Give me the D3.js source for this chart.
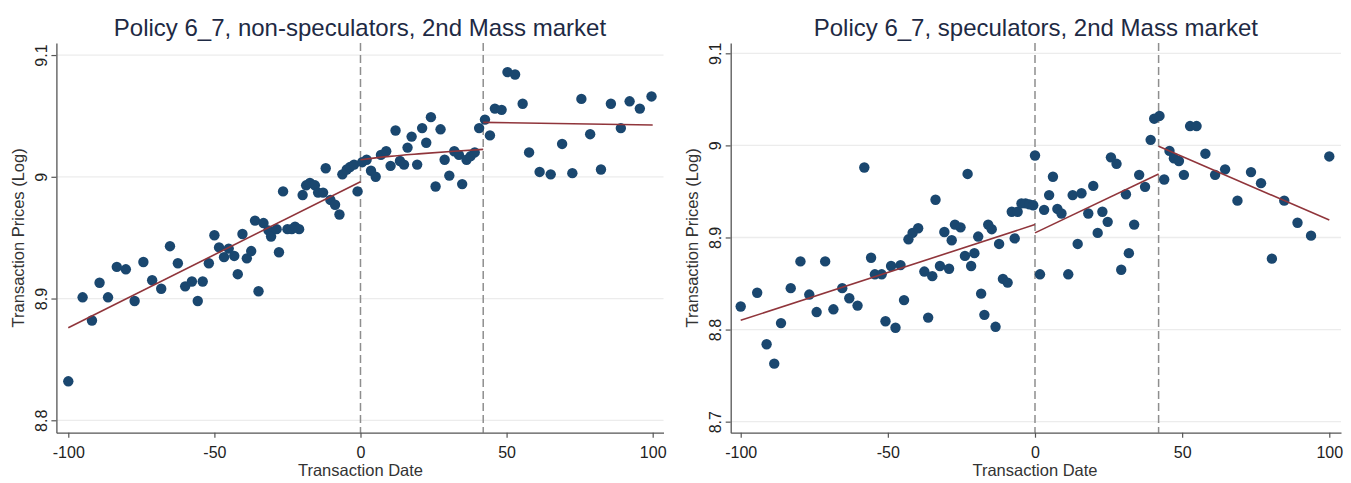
<!DOCTYPE html>
<html>
<head>
<meta charset="utf-8">
<script src="https://cdn.jsdelivr.net/npm/d3@7/dist/d3.min.js"></script>
<style>
  html, body { margin: 0; padding: 0; background: #ffffff; }
  svg { display: block; }
  text { font-family: "Liberation Sans", Arial, "Helvetica", sans-serif; }
</style>
</head>
<body>
<svg id="chart" width="1351" height="483"></svg>
<script>
// Binned transaction dates (days relative to the policy) and mean log prices
const nonSpecDates = [-100, -95.1, -91.9, -89.3, -86.4, -83.4, -80.3, -77.3, -74.3, -71.3,
  -68.2, -65.2, -62.5, -60.0, -57.7, -55.7, -54.0, -51.9, -50.0, -48.4,
  -46.7, -45.1, -43.2, -42.0, -40.4, -38.9, -37.4, -36.1, -34.9, -33.2,
  -31.5, -30.6, -28.7, -27.9, -26.5, -25.0, -23.5, -22.4, -21.0, -19.8,
  -18.6, -17.3, -15.6, -14.5, -12.8, -11.9, -10.3, -8.7, -7.2, -6.2,
  -4.7, -3.6, -2.2, -1.0, 0.6, 2.1, 3.6, 5.2, 7.0, 8.8,
  10.3, 12.0, 13.5, 14.9, 16.1, 17.5, 19.4, 21.1, 22.5, 24.1,
  25.7, 27.4, 28.8, 30.4, 32.1, 33.7, 34.8, 36.3, 37.7, 39.1,
  40.6, 42.6, 44.3, 46.0, 48.3, 50.3, 52.9, 55.5, 57.7, 61.3,
  65.1, 69.0, 72.5, 75.6, 78.6, 82.3, 85.7, 89.1, 92.1, 95.6, 99.6];
const nonSpecPrices = [8.832, 8.901, 8.882, 8.913, 8.901, 8.926, 8.924, 8.898, 8.930, 8.915,
  8.908, 8.943, 8.929, 8.910, 8.914, 8.898, 8.914, 8.929, 8.952, 8.942,
  8.934, 8.941, 8.935, 8.920, 8.953, 8.933, 8.939, 8.964, 8.906, 8.962,
  8.956, 8.951, 8.957, 8.938, 8.988, 8.957, 8.957, 8.959, 8.957, 8.985,
  8.993, 8.995, 8.993, 8.987, 8.987, 9.007, 8.981, 8.977, 8.969, 9.002,
  9.006, 9.008, 9.010, 8.988, 9.012, 9.014, 9.005, 9.000, 9.018, 9.021,
  9.009, 9.038, 9.013, 9.010, 9.024, 9.033, 9.010, 9.040, 9.028, 9.049,
  8.992, 9.039, 9.014, 9.001, 9.021, 9.018, 8.994, 9.014, 9.017, 9.020,
  9.040, 9.047, 9.034, 9.056, 9.055, 9.086, 9.084, 9.060, 9.020, 9.004,
  9.002, 9.027, 9.003, 9.064, 9.035, 9.006, 9.060, 9.040, 9.062, 9.056, 9.066];

const specDates = [-100, -94.4, -91.2, -88.6, -86.3, -83.0, -79.7, -76.7, -74.2, -71.3,
  -68.5, -65.5, -63.1, -60.3, -58.0, -55.7, -54.4, -52.1, -50.8, -48.9,
  -47.4, -45.7, -44.5, -43.0, -41.6, -39.7, -37.6, -36.3, -34.9, -33.8,
  -32.3, -30.8, -29.2, -28.3, -27.2, -25.3, -23.8, -22.9, -21.7, -20.6,
  -19.3, -18.3, -17.2, -15.9, -14.7, -13.4, -12.2, -10.9, -9.3, -7.9,
  -6.9, -5.9, -4.6, -3.2, -1.9, -0.6, 0.0, 1.7, 3.1, 4.8,
  6.1, 7.6, 9.0, 11.3, 12.8, 14.5, 15.8, 18.1, 19.8, 21.3,
  22.9, 24.7, 25.8, 27.7, 29.3, 30.9, 31.9, 33.7, 35.4, 37.4,
  39.3, 40.5, 42.3, 43.9, 45.7, 47.2, 48.9, 50.6, 52.7, 54.9,
  57.9, 61.2, 64.6, 68.8, 73.4, 76.8, 80.5, 84.7, 89.2, 93.8, 100];
const specPrices = [8.825, 8.840, 8.784, 8.763, 8.807, 8.845, 8.874, 8.838, 8.819, 8.874,
  8.822, 8.845, 8.834, 8.826, 8.976, 8.878, 8.860, 8.860, 8.809, 8.869,
  8.802, 8.870, 8.832, 8.898, 8.905, 8.910, 8.863, 8.813, 8.858, 8.941,
  8.869, 8.906, 8.866, 8.897, 8.914, 8.911, 8.880, 8.969, 8.869, 8.883,
  8.901, 8.839, 8.816, 8.914, 8.909, 8.803, 8.893, 8.855, 8.851, 8.928,
  8.899, 8.928, 8.937, 8.937, 8.936, 8.935, 8.989, 8.860, 8.930, 8.946,
  8.966, 8.931, 8.926, 8.860, 8.946, 8.893, 8.948, 8.926, 8.956, 8.905,
  8.928, 8.917, 8.987, 8.980, 8.865, 8.947, 8.883, 8.914, 8.968, 8.955,
  9.006, 9.029, 9.032, 8.963, 8.994, 8.986, 8.983, 8.968, 9.021, 9.021,
  8.991, 8.968, 8.974, 8.940, 8.971, 8.959, 8.877, 8.940, 8.916, 8.902, 8.988];

// Fitted values for each regime: before 0, between 0 and 42, after 42
const nonSpecFit = [
  [[-100, 8.876], [0, 8.996]],
  [[0, 9.0140], [10, 9.0168], [21, 9.0190], [32, 9.0210], [42, 9.0225]],
  [[42, 9.0447], [100, 9.0425]]
];
const specFit = [
  [[-100, 8.810], [0, 8.914]],
  [[0, 8.905], [42, 8.969]],
  [[42, 8.999], [100, 8.919]]
];

const cutoffs = [0, 42];
const dateTicks = [-100, -50, 0, 50, 100];
const nonSpecPriceTicks = [8.8, 8.9, 9.0, 9.1];
const specPriceTicks = [8.7, 8.8, 8.9, 9.0, 9.1];

const titles = [
  "Policy 6_7, non-speculators, 2nd Mass market",
  "Policy 6_7, speculators, 2nd Mass market"
];
const xTitle = "Transaction Date";
const yTitle = "Transaction Prices (Log)";

const svg = d3.select("#chart");
svg.append("rect").attr("width", 1351).attr("height", 483).attr("fill", "#ffffff");

const COLORS = {
  dot: "#1a476f",
  fit: "#90353b",
  cut: "#8e8e8e",
  grid: "#ececec",
  axis: "#555555",
  title: "#1e2a44",
  text: "#222222"
};

// plain hyphen-minus labels, as in the printed axes
function fmtDate(d) { return String(d); }
function fmtPrice(d) { return d === 9 ? "9" : d.toFixed(1); }

function drawPanel(p) {
  const g = svg.append("g");
  const x = d3.scaleLinear().domain(p.xDomain).range([p.left, p.right]);
  const y = d3.scaleLinear().domain(p.yDomain).range([p.bottom, p.top]);

  // horizontal grid at the price ticks
  g.append("g").selectAll("line").data(p.yTicks).join("line")
    .attr("x1", p.left).attr("x2", p.right)
    .attr("y1", d => y(d)).attr("y2", d => y(d))
    .attr("stroke", COLORS.grid).attr("stroke-width", 1.3);

  // policy cut-off dates
  g.append("g").selectAll("line").data(cutoffs).join("line")
    .attr("x1", d => x(d)).attr("x2", d => x(d))
    .attr("y1", p.top).attr("y2", p.bottom)
    .attr("stroke", COLORS.cut).attr("stroke-width", 1.5)
    .attr("stroke-dasharray", "8,4");

  // binned scatter
  g.append("g").selectAll("circle").data(p.dates.map((d, i) => [d, p.prices[i]])).join("circle")
    .attr("cx", d => x(d[0])).attr("cy", d => y(d[1])).attr("r", 5.2)
    .attr("fill", COLORS.dot);

  // fitted lines per regime
  const line = d3.line().x(d => x(d[0])).y(d => y(d[1])).curve(d3.curveMonotoneX);
  g.append("g").selectAll("path").data(p.fit).join("path")
    .attr("d", line).attr("fill", "none")
    .attr("stroke", COLORS.fit).attr("stroke-width", 1.6);

  // x axis
  const xa = g.append("g").attr("transform", `translate(0,${p.bottom})`)
    .call(d3.axisBottom(x).tickValues(dateTicks).tickSize(5).tickPadding(9).tickSizeOuter(0).tickFormat(fmtDate));
  xa.select(".domain").attr("stroke", COLORS.axis).attr("stroke-width", 1.3);
  xa.selectAll(".tick line").attr("stroke", COLORS.axis).attr("stroke-width", 1.2);
  xa.selectAll(".tick text").attr("fill", COLORS.text).style("font-size", "16px")
    .style("font-family", '"Liberation Sans", Arial, sans-serif');

  // y axis with rotated labels
  const ya = g.append("g").attr("transform", `translate(${p.left},0)`)
    .call(d3.axisLeft(y).tickValues(p.yTicks).tickSize(5).tickSizeOuter(0).tickFormat(fmtPrice));
  ya.select(".domain").attr("stroke", COLORS.axis).attr("stroke-width", 1.3);
  ya.selectAll(".tick line").attr("stroke", COLORS.axis).attr("stroke-width", 1.2);
  ya.selectAll(".tick text")
    .attr("fill", COLORS.text).style("font-size", "16px")
    .style("font-family", '"Liberation Sans", Arial, sans-serif')
    .attr("transform", "rotate(-90)")
    .attr("x", 0).attr("y", -9.5).attr("dy", 0)
    .attr("text-anchor", "middle");

  // titles
  g.append("text").attr("x", (p.left + p.right) / 2).attr("y", 36)
    .attr("text-anchor", "middle").attr("fill", COLORS.title)
    .style("font-size", "24px").text(p.title);
  g.append("text").attr("x", x(0)).attr("y", 476)
    .attr("text-anchor", "middle").attr("fill", "#333333")
    .style("font-size", "16.5px").text(xTitle);
  g.append("text")
    .attr("transform", `translate(${p.yTitleX},${(p.top + p.bottom) / 2}) rotate(-90)`)
    .attr("text-anchor", "middle").attr("fill", "#333333")
    .style("font-size", "16.5px").text(yTitle);
}

drawPanel({
  title: titles[0],
  dates: nonSpecDates, prices: nonSpecPrices, fit: nonSpecFit,
  yTicks: nonSpecPriceTicks,
  xDomain: [-104.07, 103.7], yDomain: [8.7898, 9.1099],
  left: 56.4, right: 663.5, top: 43, bottom: 432.7, yTitleX: 24
});

drawPanel({
  title: titles[1],
  dates: specDates, prices: specPrices, fit: specFit,
  yTicks: specPriceTicks,
  xDomain: [-103.4, 103.98], yDomain: [8.688, 9.1112],
  left: 730.7, right: 1341, top: 43, bottom: 432.7, yTitleX: 698
});
</script>
</body>
</html>
